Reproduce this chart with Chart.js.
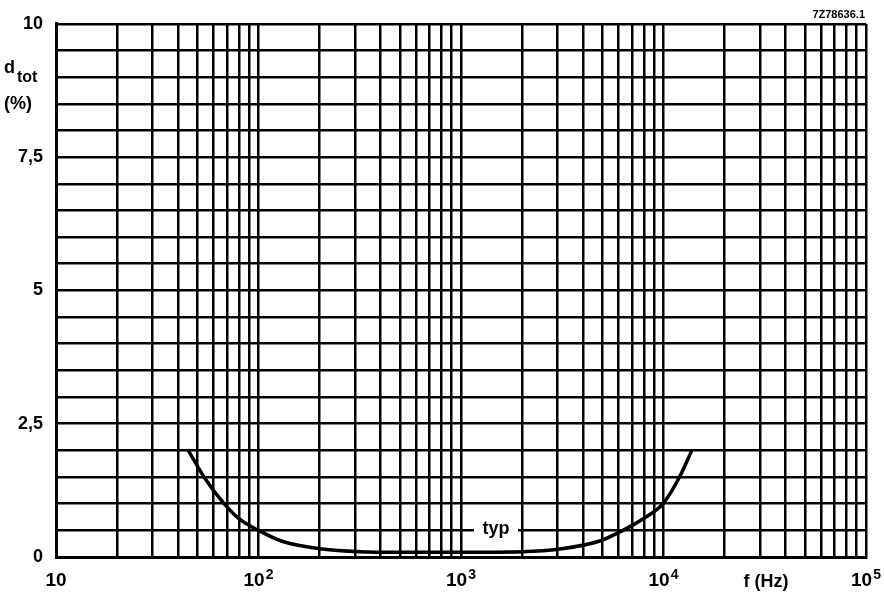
<!DOCTYPE html>
<html>
<head>
<meta charset="utf-8">
<script src="https://cdn.jsdelivr.net/npm/chart.js@4"></script>
<style>
  html, body { margin: 0; padding: 0; background: #fff; }
  #wrap { width: 884px; height: 592px; }
</style>
</head>
<body>
<div id="wrap"><canvas id="distChart" width="884" height="592"></canvas></div>
<script>
// total distortion vs frequency (typical)
const freqHz = [45, 53.8, 67.6, 80, 100, 132, 206, 317, 500, 1000, 2000, 3080, 4850, 6300, 8200, 9950, 12000, 13800];
const dTot   = [2.0, 1.5, 1.0, 0.72, 0.5, 0.29, 0.15, 0.1, 0.09, 0.09, 0.1, 0.15, 0.3, 0.5, 0.75, 1.0, 1.5, 2.0];

const decades = [10, 100, 1000, 10000, 100000];
const decadeExp = ['', '2', '3', '4', '5'];
const yLabels = [0, 2.5, 5, 7.5, 10];

const FONT = '"Liberation Sans", Arial, sans-serif';

// every 1..9 x 10^n line on the frequency axis
const logTicks = [];
for (let d = 10; d < 100000; d *= 10) {
    for (let m = 1; m < 10; m++) logTicks.push(d * m);
}
logTicks.push(100000);

const annotations = {
    id: 'annotations',
    afterDatasetsDraw(chart) {
        const ctx = chart.ctx;
        const x = chart.scales.x;
        const y = chart.scales.y;
        ctx.save();
        ctx.fillStyle = '#000';

        // decade labels under the axis
        ctx.textBaseline = 'alphabetic';
        decades.forEach((v, i) => {
            const px = x.getPixelForValue(v);
            ctx.font = 'bold 19px ' + FONT;
            const w1 = ctx.measureText('10').width;
            ctx.font = 'bold 14px ' + FONT;
            const w2 = decadeExp[i] ? ctx.measureText(decadeExp[i]).width + 1 : 0;
            const start = px - (w1 + w2) / 2;
            ctx.font = 'bold 19px ' + FONT;
            ctx.textAlign = 'left';
            ctx.fillText('10', start, 586);
            if (decadeExp[i]) {
                ctx.font = 'bold 14px ' + FONT;
                ctx.fillText(decadeExp[i], start + w1 + 1, 579);
            }
        });

        ctx.font = 'bold 18px ' + FONT;
        ctx.textAlign = 'center';
        ctx.fillText('f (Hz)', 766, 587);

        // axis title
        ctx.textAlign = 'left';
        ctx.font = 'bold 18px ' + FONT;
        ctx.fillText('d', 4, 73);
        ctx.font = 'bold 16px ' + FONT;
        ctx.fillText('tot', 17, 82);
        ctx.font = 'bold 18px ' + FONT;
        ctx.fillText('(%)', 4, 109);

        // drawing number
        ctx.textAlign = 'right';
        ctx.font = 'bold 11px ' + FONT;
        ctx.fillText('7Z78636.1', 865, 18);

        // curve tag sitting on the 0.5 line
        const ty = y.getPixelForValue(0.5);
        ctx.fillStyle = '#fff';
        ctx.fillRect(474, ty - 4, 44, 8);
        ctx.fillStyle = '#000';
        ctx.textAlign = 'center';
        ctx.textBaseline = 'middle';
        ctx.font = 'bold 18px ' + FONT;
        ctx.fillText('typ', 496, ty - 1);
        ctx.restore();
    }
};

new Chart(document.getElementById('distChart'), {
    type: 'line',
    data: {
        datasets: [{
            data: freqHz.map((f, i) => ({ x: f, y: dTot[i] })),
            borderColor: '#000',
            borderWidth: 3.5,
            pointRadius: 0,
            cubicInterpolationMode: 'monotone',
            borderCapStyle: 'butt',
            fill: false
        }]
    },
    options: {
        responsive: false,
        animation: false,
        layout: { padding: { left: 0, top: 21, right: 18, bottom: 0 } },
        plugins: { legend: { display: false }, tooltip: { enabled: false } },
        scales: {
            x: {
                type: 'logarithmic',
                min: 10,
                max: 100000,
                afterBuildTicks: scale => { scale.ticks = logTicks.map(v => ({ value: v })); },
                afterFit: scale => { scale.height = 35; },
                ticks: { display: false },
                grid: { color: '#000', lineWidth: 2.5, drawTicks: false },
                border: { color: '#000', width: 3 }
            },
            y: {
                min: 0,
                max: 10,
                afterFit: scale => { scale.width = 56; },
                ticks: {
                    stepSize: 0.5,
                    padding: 13,
                    color: '#000',
                    font: { family: FONT, size: 18, weight: 'bold' },
                    callback: v => yLabels.includes(v) ? String(v).replace('.', ',') : ''
                },
                grid: { color: '#000', lineWidth: 2.5, drawTicks: false },
                border: { color: '#000', width: 3 }
            }
        }
    },
    plugins: [annotations]
});
</script>
</body>
</html>
